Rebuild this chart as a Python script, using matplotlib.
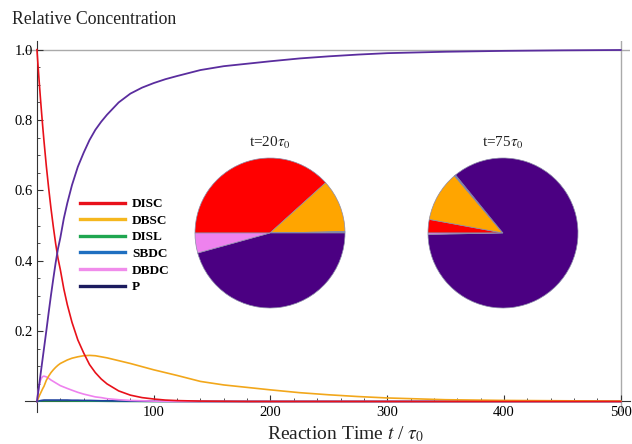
import numpy as np
import matplotlib
matplotlib.use("Agg")
import matplotlib.pyplot as plt
from matplotlib.lines import Line2D
from matplotlib.ticker import MultipleLocator, FixedLocator

plt.rcParams['font.family'] = ['Liberation Serif', 'DejaVu Serif']
plt.rcParams['mathtext.fontset'] = 'stix'

# values
t = [0, 1, 2, 3, 4, 5, 6, 8, 10, 12, 14, 16, 18, 20, 23, 26, 30, 35, 40, 45,
     50, 55, 60, 70, 80, 90, 100, 110, 120, 140, 160, 180, 200, 225, 250,
     275, 300, 350, 400, 450, 500]
disc = [1.0, 0.951, 0.905, 0.861, 0.819, 0.779, 0.741, 0.670, 0.607, 0.549,
        0.497, 0.449, 0.407, 0.375, 0.320, 0.275, 0.225, 0.175, 0.138, 0.105,
        0.082, 0.064, 0.050, 0.030, 0.018, 0.011, 0.007, 0.004, 0.0025, 0.001,
        0.0005, 0, 0, 0, 0, 0, 0, 0, 0, 0, 0]
dbsc = [0, 0.008, 0.016, 0.023, 0.030, 0.037, 0.043, 0.060, 0.072, 0.082,
        0.090, 0.097, 0.103, 0.108, 0.113, 0.118, 0.123, 0.127, 0.130, 0.131,
        0.130, 0.127, 0.124, 0.116, 0.108, 0.099, 0.090, 0.082, 0.074, 0.057,
        0.047, 0.040, 0.033, 0.025, 0.019, 0.014, 0.010, 0.005, 0.003, 0.002,
        0.001]
disl = [0, 0.0005, 0.001, 0.0015, 0.002, 0.002, 0.002, 0.002, 0.002, 0.002,
        0.002, 0.002, 0.002, 0.002, 0.002, 0.002, 0.0015, 0.0015, 0.001, 0.001,
        0.001, 0.0008, 0.0006, 0.0004, 0.0003, 0.0002, 0.0001, 0, 0, 0,
        0, 0, 0, 0, 0, 0, 0, 0, 0, 0, 0]
sbdc = [0, 0.001, 0.002, 0.0025, 0.003, 0.0035, 0.004, 0.004, 0.004, 0.004,
        0.004, 0.004, 0.004, 0.004, 0.004, 0.004, 0.0035, 0.0035, 0.003, 0.003,
        0.0025, 0.002, 0.002, 0.0015, 0.001, 0.0008, 0.0005, 0.0003, 0.0002, 0,
        0, 0, 0, 0, 0, 0, 0, 0, 0, 0, 0]
dbdc = [0, 0.028, 0.047, 0.060, 0.067, 0.071, 0.072, 0.070, 0.066, 0.061,
        0.057, 0.053, 0.049, 0.045, 0.041, 0.037, 0.032, 0.026, 0.021, 0.017,
        0.013, 0.011, 0.008, 0.005, 0.003, 0.002, 0.001, 0.0005, 0, 0,
        0, 0, 0, 0, 0, 0, 0, 0, 0, 0, 0]
prod = [0, 0.025, 0.05, 0.075, 0.10, 0.125, 0.15, 0.20, 0.252, 0.302,
        0.349, 0.394, 0.434, 0.465, 0.520, 0.564, 0.615, 0.667, 0.707, 0.743,
        0.772, 0.795, 0.815, 0.850, 0.875, 0.892, 0.905, 0.916, 0.925, 0.942,
        0.953, 0.960, 0.967, 0.975, 0.981, 0.986, 0.990, 0.994, 0.9965, 0.998,
        0.999]

labels = ['DISC', 'DBSC', 'DISL', 'SBDC', 'DBDC', 'P']
legend_colors = ['#E8101A', '#F5B71E', '#1FA650', '#1F6FC0', '#F08CEB', '#1B1B5E']

# pie fractions, clockwise from the left: DISC, DBSC, DISL, SBDC, P, DBDC
pie_colors = ['#FF0000', '#FFA500', '#00A651', '#1F6FC0', '#4B0082', '#EE82EE']
pie_t20 = [0.383, 0.114, 0.001, 0.002, 0.457, 0.043]
pie_t75 = [0.029, 0.109, 0.001, 0.002, 0.856, 0.003]

fig = plt.figure(figsize=(6.32, 4.44), dpi=100)
ax = fig.add_axes([0.040, 0.072, 0.957, 0.836])

ax.axhline(1.0, color='#AAAAAA', lw=1.0, zorder=1)
ax.axvline(500, color='#AAAAAA', lw=1.0, zorder=1)

ax.plot(t, disl, color='#1FA650', lw=1.2, zorder=3)
ax.plot(t, sbdc, color='#1F3FA0', lw=1.2, zorder=3)
ax.plot(t, dbdc, color='#EE82EE', lw=1.2, zorder=3)
ax.plot(t, dbsc, color='#F2A71B', lw=1.2, zorder=3)
ax.plot(t, disc, color='#E8111A', lw=1.2, zorder=3)
ax.plot(t, prod, color='#5A2D9E', lw=1.3, zorder=3)

ax.set_xlim(-10, 508)
ax.set_ylim(-0.03, 1.025)
for s in ['top', 'right']:
    ax.spines[s].set_visible(False)
ax.spines['left'].set_position(('data', 0))
ax.spines['bottom'].set_position(('data', 0))
ax.spines['left'].set_color('#333333')
ax.spines['bottom'].set_color('#333333')

ax.xaxis.set_major_locator(FixedLocator([100, 200, 300, 400, 500]))
ax.xaxis.set_minor_locator(MultipleLocator(20))
ax.yaxis.set_major_locator(FixedLocator([0.2, 0.4, 0.6, 0.8, 1.0]))
ax.yaxis.set_minor_locator(MultipleLocator(0.05))
ax.set_yticklabels(['0.2', '0.4', '0.6', '0.8', '1.0'])
ax.tick_params(which='major', direction='in', length=4, width=0.8,
               labelsize=10.5, pad=3, color='#333333')
ax.tick_params(which='minor', direction='in', length=2.2, width=0.6,
               color='#333333')

fig.text(0.019, 1 - 20 / 444, 'Relative Concentration', fontsize=12.8,
         va='center', ha='left', color='#222222')
fig.text(346 / 632, 1 - 434 / 444, r'Reaction Time $t$ / $\tau_0$',
         fontsize=14, va='center', ha='center', color='#222222')

handles = [Line2D([0], [0], color=c, lw=2.4) for c in legend_colors]
leg = ax.legend(handles, labels, loc='upper left', frameon=False,
                bbox_to_anchor=(80 / 632, 1 - 198 / 444),
                bbox_transform=fig.transFigure, borderpad=0, borderaxespad=0,
                handlelength=3.4, handletextpad=0.55, labelspacing=0.33,
                prop={'family': 'Liberation Serif', 'weight': 'bold', 'size': 9.5})

def draw_pie(cx, cy, r, fracs, title):
    pax = fig.add_axes([(cx - r) / 632, 1 - (cy + r) / 444, 2 * r / 632, 2 * r / 444])
    pax.pie(fracs, colors=pie_colors, startangle=180, counterclock=False,
            radius=1, wedgeprops={'edgecolor': '#8a8aa8', 'linewidth': 0.5})
    pax.set_xlim(-1, 1)
    pax.set_ylim(-1, 1)
    pax.set_axis_off()
    fig.text(cx / 632, 1 - 143 / 444, title, fontsize=11, ha='center',
             va='center', color='#222222')

draw_pie(270, 233, 75, pie_t20, r't=20$\tau_0$')
draw_pie(503, 233, 75, pie_t75, r't=75$\tau_0$')

fig.savefig('out.png', dpi=100)
